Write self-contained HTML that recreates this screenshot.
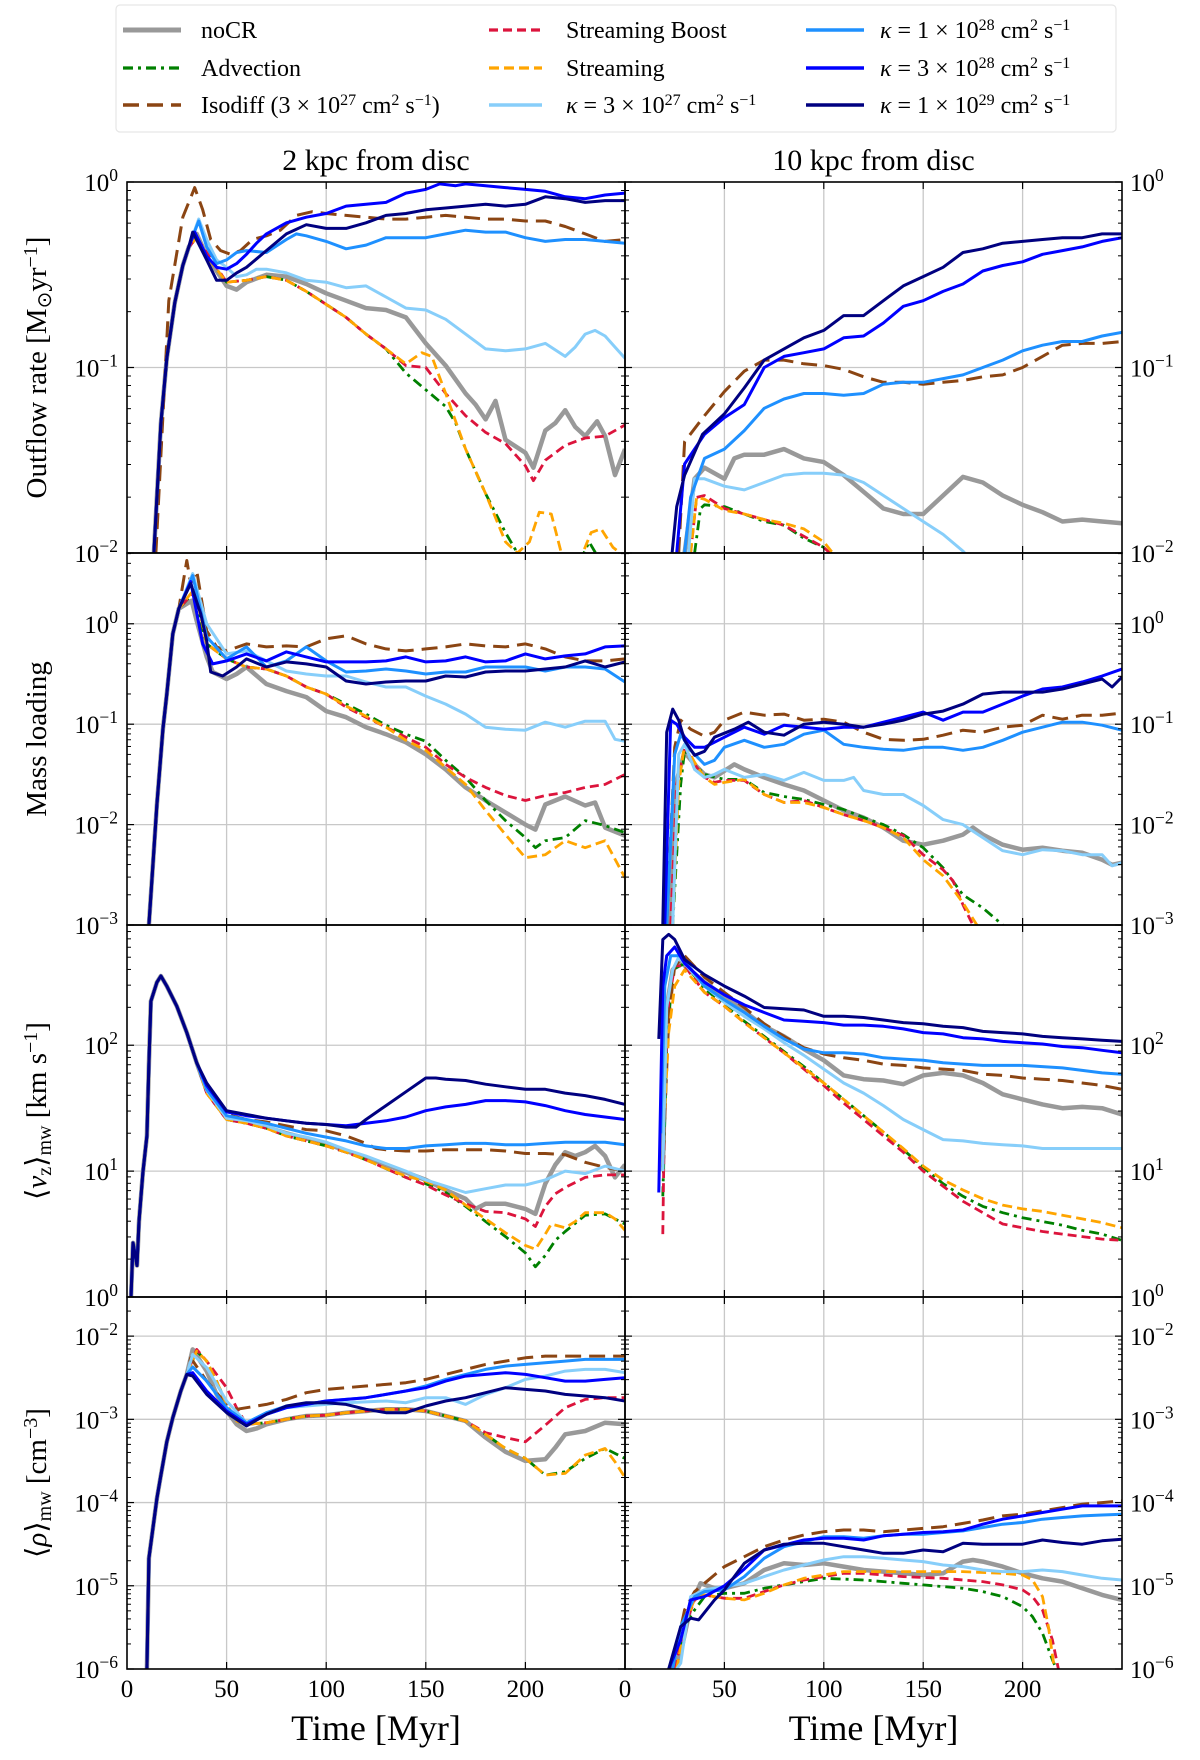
<!DOCTYPE html>
<html><head><meta charset="utf-8"><style>
html,body{margin:0;padding:0;background:#fff;}
svg{display:block;font-family:"Liberation Serif",serif;}
</style></head><body>
<svg id="fig" xmlns="http://www.w3.org/2000/svg" width="1200" height="1760" viewBox="0 0 1200 1760"></svg>
<script>
// ---- data (times in Myr, values are log10 of the quantity) ----
const seriesNames = ["noCR","Advection","Streaming Boost","Isodiff","Streaming","kappa 3e27","kappa 1e28","kappa 3e28","kappa 1e29"];
const xTicks = [0,50,100,150,200];

const early1 = [[13.5,-2],[17,-1.3],[20,-0.95],[24,-0.65],[28,-0.45],[31,-0.35]];
const outflow2 = [
 [[35,-0.28],[40,-0.4],[50,-0.56],[55,-0.58],[60,-0.54],[70,-0.5],[80,-0.51],[90,-0.55],[100,-0.6],[110,-0.64],[120,-0.68],[130,-0.69],[140,-0.73],[150,-0.87],[160,-0.99],[170,-1.14],[175,-1.2],[180,-1.28],[185,-1.18],[190,-1.39],[200,-1.46],[204,-1.54],[210,-1.34],[215,-1.3],[220,-1.23],[225,-1.32],[230,-1.37],[236,-1.29],[240,-1.37],[245,-1.58],[250,-1.44]],
 [[35,-0.3],[40,-0.4],[50,-0.54],[60,-0.53],[70,-0.51],[80,-0.53],[90,-0.59],[100,-0.66],[110,-0.73],[120,-0.82],[130,-0.9],[140,-1.03],[150,-1.12],[160,-1.21],[165,-1.3],[170,-1.44],[180,-1.68],[190,-1.89],[196,-2.0],[210,-2.2],[225,-2.1],[232,-1.94],[238,-2.05],[245,-2.2]],
 [[35,-0.3],[40,-0.38],[50,-0.54],[60,-0.53],[70,-0.51],[80,-0.53],[90,-0.59],[100,-0.66],[110,-0.73],[120,-0.82],[130,-0.9],[140,-0.99],[150,-1.0],[160,-1.14],[170,-1.26],[180,-1.35],[190,-1.41],[200,-1.53],[204,-1.61],[210,-1.5],[220,-1.42],[230,-1.38],[240,-1.37],[250,-1.31]],
 [[14.5,-2],[21,-0.64],[28,-0.19],[34,-0.03],[38,-0.15],[42,-0.31],[47,-0.37],[52,-0.39],[57,-0.37],[63,-0.31],[70,-0.29],[77,-0.26],[85,-0.18],[93,-0.16],[100,-0.17],[110,-0.18],[120,-0.19],[130,-0.2],[140,-0.2],[150,-0.19],[160,-0.18],[170,-0.19],[180,-0.2],[190,-0.2],[200,-0.21],[210,-0.21],[220,-0.24],[230,-0.28],[240,-0.32],[250,-0.31]],
 [[35,-0.3],[40,-0.4],[50,-0.54],[60,-0.53],[70,-0.51],[80,-0.53],[90,-0.59],[100,-0.66],[110,-0.73],[120,-0.82],[130,-0.9],[140,-0.98],[148,-0.92],[153,-0.94],[160,-1.14],[170,-1.44],[180,-1.68],[190,-1.94],[196,-2.0],[202,-1.94],[207,-1.78],[213,-1.79],[218,-2.0],[225,-2.1],[233,-1.89],[238,-1.87],[244,-1.97],[250,-2.02]],
 [[36,-0.2],[40,-0.31],[45,-0.42],[50,-0.46],[55,-0.51],[60,-0.5],[65,-0.47],[70,-0.47],[80,-0.49],[90,-0.53],[100,-0.54],[110,-0.57],[120,-0.56],[130,-0.62],[140,-0.68],[150,-0.69],[160,-0.74],[170,-0.82],[180,-0.9],[190,-0.91],[200,-0.9],[210,-0.87],[220,-0.94],[225,-0.89],[230,-0.82],[235,-0.8],[240,-0.83],[245,-0.89],[250,-0.95]],
 [[36,-0.21],[40,-0.35],[45,-0.44],[50,-0.42],[55,-0.38],[60,-0.37],[70,-0.38],[80,-0.31],[85,-0.28],[90,-0.29],[100,-0.32],[110,-0.36],[120,-0.34],[130,-0.3],[140,-0.3],[150,-0.3],[160,-0.28],[170,-0.26],[180,-0.27],[190,-0.27],[200,-0.3],[210,-0.32],[220,-0.31],[230,-0.31],[240,-0.32],[250,-0.33]],
 [[34,-0.27],[40,-0.4],[45,-0.46],[50,-0.47],[55,-0.44],[60,-0.39],[65,-0.33],[70,-0.28],[80,-0.22],[90,-0.19],[100,-0.17],[110,-0.13],[120,-0.12],[130,-0.11],[140,-0.06],[150,-0.04],[157,-0.01],[165,-0.02],[170,-0.01],[180,-0.02],[190,-0.03],[200,-0.04],[210,-0.05],[220,-0.08],[230,-0.09],[240,-0.07],[250,-0.06]],
 [[33,-0.27],[40,-0.42],[45,-0.53],[50,-0.53],[55,-0.49],[60,-0.46],[70,-0.37],[80,-0.28],[90,-0.23],[100,-0.25],[110,-0.25],[120,-0.22],[130,-0.18],[140,-0.17],[150,-0.15],[160,-0.14],[170,-0.13],[180,-0.12],[190,-0.13],[200,-0.12],[210,-0.08],[220,-0.09],[230,-0.11],[240,-0.1],[250,-0.1]]
];
const outflow10 = [
 [[30,-2],[35,-1.6],[40,-1.54],[50,-1.6],[55,-1.49],[60,-1.47],[70,-1.47],[80,-1.44],[90,-1.49],[100,-1.51],[110,-1.58],[120,-1.67],[130,-1.76],[140,-1.79],[150,-1.79],[160,-1.69],[170,-1.59],[180,-1.62],[190,-1.69],[200,-1.74],[210,-1.78],[220,-1.83],[230,-1.82],[240,-1.83],[250,-1.84]],
 [[35,-2],[38,-1.76],[40,-1.74],[50,-1.75],[60,-1.79],[70,-1.83],[80,-1.85],[90,-1.92],[100,-1.97],[106,-2.02]],
 [[33,-2],[36,-1.7],[40,-1.69],[50,-1.76],[60,-1.79],[70,-1.82],[80,-1.85],[90,-1.91],[100,-1.97],[105,-2.02]],
 [[27,-2],[30,-1.4],[40,-1.26],[50,-1.13],[60,-1.02],[70,-0.96],[80,-0.96],[90,-0.98],[100,-0.99],[110,-1.01],[120,-1.05],[130,-1.08],[140,-1.08],[150,-1.09],[160,-1.08],[170,-1.07],[180,-1.05],[190,-1.04],[200,-1.0],[210,-0.94],[220,-0.88],[230,-0.87],[240,-0.87],[250,-0.86]],
 [[33,-2],[36,-1.7],[40,-1.71],[50,-1.77],[60,-1.79],[70,-1.82],[80,-1.84],[90,-1.87],[100,-1.94],[106,-2.02]],
 [[32,-2],[35,-1.6],[40,-1.6],[50,-1.64],[60,-1.66],[70,-1.62],[80,-1.58],[90,-1.57],[100,-1.57],[110,-1.58],[120,-1.62],[130,-1.69],[140,-1.76],[150,-1.83],[160,-1.9],[170,-1.99],[175,-2.05]],
 [[30,-2],[33,-1.7],[40,-1.49],[50,-1.44],[60,-1.34],[70,-1.22],[80,-1.17],[90,-1.14],[100,-1.14],[110,-1.15],[120,-1.14],[130,-1.09],[140,-1.08],[150,-1.08],[160,-1.06],[170,-1.04],[180,-1.0],[190,-0.96],[200,-0.91],[210,-0.88],[220,-0.86],[230,-0.86],[240,-0.83],[250,-0.81]],
 [[26,-2],[30,-1.52],[40,-1.36],[50,-1.27],[60,-1.2],[70,-1.0],[80,-0.94],[90,-0.92],[100,-0.9],[110,-0.84],[120,-0.83],[130,-0.76],[140,-0.67],[150,-0.64],[160,-0.59],[170,-0.55],[180,-0.48],[190,-0.45],[200,-0.43],[210,-0.39],[220,-0.37],[230,-0.35],[240,-0.32],[250,-0.3]],
 [[23.7,-2],[26,-1.75],[30,-1.58],[39,-1.36],[50,-1.25],[60,-1.11],[70,-0.96],[80,-0.9],[90,-0.84],[100,-0.8],[110,-0.72],[120,-0.72],[130,-0.64],[140,-0.56],[150,-0.51],[160,-0.46],[170,-0.38],[180,-0.36],[190,-0.33],[200,-0.32],[210,-0.31],[220,-0.3],[230,-0.3],[240,-0.28],[250,-0.28]]
];
const early2 = [[11,-3],[13,-2.4],[15,-1.8],[18,-1.05],[20,-0.7],[23,-0.1],[26,0.15]];
const loading2 = [
 [[32.5,0.23],[35,0.03],[40,-0.33],[43,-0.48],[50,-0.55],[55,-0.5],[60,-0.43],[70,-0.6],[80,-0.67],[90,-0.73],[100,-0.87],[110,-0.93],[120,-1.03],[130,-1.1],[140,-1.18],[150,-1.3],[160,-1.45],[170,-1.63],[180,-1.76],[190,-1.88],[200,-2.0],[205,-2.05],[210,-1.8],[220,-1.72],[230,-1.81],[235,-1.78],[240,-2.03],[250,-2.11]],
 [[33,0.3],[40,-0.2],[50,-0.35],[60,-0.43],[70,-0.45],[80,-0.52],[90,-0.63],[100,-0.7],[110,-0.8],[120,-0.9],[130,-1.01],[140,-1.1],[150,-1.17],[160,-1.36],[170,-1.53],[180,-1.76],[190,-1.96],[200,-2.13],[205,-2.23],[210,-2.16],[220,-2.13],[230,-1.96],[240,-2.01],[250,-2.08]],
 [[35,0.35],[40,-0.2],[50,-0.35],[60,-0.43],[70,-0.45],[80,-0.52],[90,-0.63],[100,-0.7],[110,-0.83],[120,-0.93],[130,-1.03],[140,-1.13],[150,-1.23],[160,-1.4],[170,-1.53],[180,-1.63],[190,-1.71],[200,-1.76],[210,-1.71],[220,-1.68],[230,-1.63],[240,-1.6],[250,-1.5]],
 [[30,0.63],[32,0.4],[35,0.53],[40,-0.07],[45,-0.23],[50,-0.27],[60,-0.2],[70,-0.23],[80,-0.22],[90,-0.23],[100,-0.15],[110,-0.12],[120,-0.2],[130,-0.25],[140,-0.27],[150,-0.25],[160,-0.23],[170,-0.2],[180,-0.22],[190,-0.23],[200,-0.2],[210,-0.25],[220,-0.33],[230,-0.37],[240,-0.37],[250,-0.35]],
 [[34,0.35],[40,-0.2],[50,-0.35],[60,-0.43],[70,-0.45],[80,-0.52],[90,-0.63],[100,-0.7],[110,-0.82],[120,-0.92],[130,-1.03],[140,-1.16],[150,-1.26],[160,-1.43],[170,-1.6],[180,-1.86],[190,-2.1],[200,-2.33],[210,-2.3],[220,-2.16],[230,-2.23],[240,-2.16],[250,-2.53]],
 [[33,0.5],[40,0.0],[50,-0.3],[60,-0.27],[70,-0.37],[80,-0.47],[90,-0.5],[100,-0.52],[110,-0.52],[120,-0.58],[130,-0.63],[140,-0.63],[150,-0.72],[160,-0.8],[170,-0.9],[180,-1.03],[190,-1.05],[200,-1.06],[210,-0.98],[220,-1.03],[230,-0.97],[240,-0.97],[245,-1.15],[250,-1.17]],
 [[33,0.48],[40,-0.13],[50,-0.35],[60,-0.23],[70,-0.43],[80,-0.37],[90,-0.23],[100,-0.37],[110,-0.48],[120,-0.47],[130,-0.45],[140,-0.47],[150,-0.5],[160,-0.48],[170,-0.48],[180,-0.43],[190,-0.43],[200,-0.43],[210,-0.47],[220,-0.43],[230,-0.43],[240,-0.45],[250,-0.58]],
 [[32,0.42],[38,-0.2],[43,-0.4],[50,-0.37],[60,-0.3],[70,-0.37],[80,-0.28],[90,-0.33],[100,-0.38],[110,-0.38],[120,-0.38],[130,-0.37],[140,-0.33],[150,-0.38],[160,-0.37],[170,-0.33],[180,-0.38],[190,-0.37],[200,-0.3],[210,-0.35],[220,-0.32],[230,-0.3],[240,-0.23],[250,-0.22]],
 [[32,0.4],[37,0.1],[40,-0.17],[42,-0.48],[48,-0.52],[55,-0.43],[60,-0.35],[70,-0.43],[80,-0.38],[90,-0.4],[100,-0.43],[110,-0.57],[120,-0.6],[130,-0.58],[140,-0.57],[150,-0.57],[160,-0.52],[170,-0.53],[180,-0.48],[190,-0.47],[200,-0.47],[210,-0.45],[220,-0.43],[230,-0.37],[240,-0.43],[250,-0.38]]
];
const loading10 = [
 [[22,-3],[26,-1.56],[30,-1.28],[35,-1.4],[40,-1.5],[45,-1.53],[55,-1.4],[60,-1.45],[70,-1.53],[80,-1.6],[90,-1.66],[100,-1.76],[110,-1.86],[120,-1.93],[130,-2.03],[140,-2.16],[150,-2.2],[160,-2.16],[170,-2.1],[175,-2.03],[180,-2.1],[190,-2.2],[200,-2.25],[210,-2.23],[220,-2.26],[230,-2.28],[240,-2.35],[245,-2.4],[250,-2.38]],
 [[24,-3],[28,-1.6],[30,-1.26],[35,-1.4],[40,-1.5],[50,-1.55],[60,-1.55],[70,-1.68],[80,-1.72],[90,-1.75],[100,-1.8],[110,-1.85],[120,-1.93],[130,-2.0],[140,-2.1],[150,-2.23],[160,-2.43],[170,-2.7],[180,-2.83],[190,-3.0]],
 [[23,-3],[26,-1.6],[30,-1.23],[35,-1.4],[40,-1.53],[45,-1.58],[50,-1.56],[60,-1.56],[70,-1.7],[80,-1.78],[90,-1.76],[100,-1.83],[110,-1.9],[120,-1.96],[130,-2.03],[140,-2.11],[150,-2.3],[160,-2.45],[165,-2.56],[170,-2.8],[175,-3.0]],
 [[21,-3],[25,-1.23],[28,-0.96],[33,-1.05],[40,-1.12],[45,-1.08],[50,-0.96],[60,-0.88],[70,-0.91],[80,-0.9],[90,-0.96],[100,-0.95],[110,-0.98],[120,-1.08],[130,-1.15],[140,-1.16],[150,-1.15],[160,-1.11],[170,-1.06],[180,-1.08],[190,-1.03],[200,-1.01],[210,-0.91],[220,-0.95],[230,-0.91],[240,-0.91],[250,-0.89]],
 [[24,-3],[27,-1.6],[30,-1.2],[35,-1.38],[40,-1.53],[45,-1.6],[50,-1.58],[60,-1.55],[70,-1.7],[80,-1.78],[90,-1.78],[100,-1.83],[110,-1.9],[120,-1.96],[130,-2.03],[140,-2.13],[150,-2.35],[160,-2.51],[170,-2.78],[177,-3.0]],
 [[24,-3],[27,-1.3],[30,-1.2],[35,-1.45],[40,-1.53],[45,-1.5],[50,-1.45],[60,-1.53],[70,-1.5],[80,-1.56],[90,-1.48],[100,-1.56],[110,-1.56],[115,-1.53],[120,-1.66],[130,-1.7],[140,-1.7],[150,-1.81],[160,-1.95],[170,-2.0],[180,-2.13],[190,-2.26],[200,-2.3],[210,-2.25],[220,-2.26],[230,-2.3],[240,-2.3],[245,-2.41],[250,-2.38]],
 [[21,-3],[25,-1.3],[28,-1.1],[33,-1.26],[40,-1.4],[45,-1.36],[50,-1.23],[60,-1.16],[70,-1.23],[80,-1.2],[90,-1.1],[100,-1.06],[110,-1.2],[120,-1.23],[130,-1.25],[140,-1.26],[150,-1.23],[160,-1.23],[170,-1.26],[180,-1.23],[190,-1.16],[200,-1.08],[210,-1.03],[220,-0.98],[230,-0.98],[240,-1.01],[250,-1.06]],
 [[20,-3],[23,-0.96],[26,-1.0],[30,-1.13],[35,-1.23],[40,-1.23],[50,-1.13],[60,-1.03],[70,-1.1],[80,-1.01],[90,-1.03],[100,-1.05],[110,-1.03],[120,-1.03],[130,-0.98],[140,-0.93],[150,-0.88],[160,-0.96],[170,-0.88],[180,-0.88],[190,-0.8],[200,-0.72],[210,-0.65],[220,-0.63],[230,-0.58],[240,-0.52],[250,-0.45]],
 [[19,-3],[21,-1.08],[24,-0.85],[27,-0.96],[30,-1.16],[35,-1.31],[40,-1.27],[45,-1.13],[55,-1.05],[62,-0.98],[70,-1.08],[80,-1.11],[90,-1.0],[100,-0.98],[110,-1.0],[120,-1.03],[130,-1.0],[140,-0.96],[150,-0.9],[160,-0.87],[170,-0.8],[180,-0.7],[190,-0.68],[200,-0.68],[210,-0.68],[220,-0.65],[230,-0.6],[240,-0.55],[245,-0.63],[250,-0.53]]
];
const early3 = [[2,0],[3,0.43],[5,0.25],[6,0.6],[8,0.99],[10,1.28],[11,1.85],[12,2.35],[15,2.5],[17,2.55],[20,2.47],[25,2.31],[30,2.1],[35,1.86]];
const velocity2 = [
 [[40,1.64],[50,1.42],[60,1.39],[70,1.35],[80,1.3],[90,1.26],[100,1.22],[110,1.16],[120,1.11],[130,1.05],[140,0.99],[150,0.93],[160,0.85],[170,0.78],[175,0.7],[180,0.74],[190,0.74],[200,0.7],[205,0.66],[210,0.9],[215,1.05],[220,1.15],[225,1.12],[230,1.15],[235,1.2],[240,1.12],[245,0.95],[250,1.05]],
 [[40,1.62],[50,1.41],[60,1.38],[70,1.34],[80,1.28],[90,1.24],[100,1.2],[110,1.15],[120,1.09],[130,1.02],[140,0.95],[150,0.9],[160,0.83],[170,0.72],[180,0.6],[190,0.48],[200,0.35],[205,0.24],[210,0.33],[215,0.45],[220,0.52],[230,0.65],[240,0.66],[250,0.58]],
 [[40,1.62],[50,1.41],[60,1.38],[70,1.34],[80,1.28],[90,1.24],[100,1.2],[110,1.15],[120,1.09],[130,1.02],[140,0.95],[150,0.89],[160,0.81],[170,0.74],[180,0.68],[190,0.67],[200,0.62],[205,0.56],[210,0.72],[215,0.82],[220,0.87],[230,0.95],[240,0.97],[250,0.97]],
 [[40,1.66],[50,1.45],[60,1.41],[70,1.39],[80,1.36],[90,1.33],[100,1.32],[110,1.28],[120,1.22],[125,1.18],[130,1.17],[140,1.16],[150,1.16],[160,1.17],[170,1.17],[180,1.17],[190,1.16],[200,1.14],[210,1.14],[220,1.13],[230,1.07],[240,1.03],[250,1.0]],
 [[40,1.62],[50,1.41],[60,1.38],[70,1.34],[80,1.28],[90,1.24],[100,1.2],[110,1.15],[120,1.09],[130,1.02],[140,0.96],[150,0.92],[160,0.85],[170,0.73],[180,0.62],[190,0.51],[200,0.41],[205,0.38],[210,0.5],[213,0.58],[220,0.55],[225,0.6],[230,0.67],[235,0.67],[240,0.67],[245,0.62],[250,0.53]],
 [[40,1.64],[50,1.42],[60,1.4],[70,1.36],[80,1.3],[90,1.27],[100,1.23],[110,1.17],[120,1.12],[130,1.06],[140,1.0],[150,0.93],[160,0.88],[170,0.83],[180,0.86],[190,0.89],[200,0.89],[210,0.93],[220,1.0],[230,0.98],[240,1.04],[250,1.0]],
 [[40,1.65],[50,1.44],[60,1.41],[70,1.38],[80,1.34],[90,1.3],[100,1.27],[110,1.24],[120,1.2],[130,1.18],[140,1.18],[150,1.2],[160,1.21],[170,1.22],[180,1.22],[190,1.21],[200,1.21],[210,1.22],[220,1.23],[230,1.23],[240,1.23],[250,1.21]],
 [[40,1.68],[50,1.47],[60,1.44],[70,1.42],[80,1.4],[90,1.38],[100,1.37],[110,1.36],[120,1.38],[130,1.4],[140,1.43],[150,1.48],[160,1.51],[170,1.53],[180,1.56],[190,1.56],[200,1.55],[210,1.52],[220,1.48],[230,1.45],[240,1.43],[250,1.41]],
 [[40,1.7],[50,1.48],[60,1.45],[70,1.42],[80,1.4],[90,1.38],[100,1.37],[110,1.35],[115,1.35],[120,1.41],[130,1.52],[140,1.63],[150,1.74],[155,1.74],[160,1.73],[170,1.72],[180,1.69],[190,1.67],[200,1.65],[210,1.65],[220,1.62],[230,1.6],[240,1.57],[250,1.53]]
];
const velocity10 = [
 [[19,1.0],[21,2.3],[24,2.6],[28,2.66],[40,2.5],[50,2.39],[60,2.27],[70,2.15],[80,2.07],[90,1.97],[100,1.88],[110,1.76],[120,1.73],[130,1.72],[140,1.69],[150,1.76],[160,1.78],[170,1.76],[180,1.7],[190,1.61],[200,1.57],[210,1.53],[220,1.5],[230,1.51],[240,1.5],[250,1.45]],
 [[19,0.8],[21,2.0],[24,2.6],[30,2.65],[40,2.45],[50,2.32],[60,2.19],[70,2.07],[80,1.95],[90,1.83],[100,1.7],[110,1.57],[120,1.44],[130,1.31],[140,1.17],[150,1.03],[160,0.9],[170,0.8],[180,0.72],[190,0.67],[200,0.63],[210,0.6],[220,0.57],[230,0.53],[240,0.5],[250,0.45]],
 [[19,0.5],[20,1.68],[22,2.34],[25,2.63],[30,2.63],[40,2.42],[50,2.31],[60,2.18],[70,2.06],[80,1.94],[90,1.81],[100,1.68],[110,1.54],[120,1.41],[130,1.28],[140,1.15],[150,1.0],[160,0.88],[170,0.76],[180,0.67],[190,0.58],[200,0.55],[210,0.52],[220,0.5],[230,0.48],[240,0.46],[250,0.45]],
 [[19,1.03],[22,2.21],[25,2.63],[30,2.71],[40,2.54],[50,2.42],[60,2.3],[70,2.17],[80,2.07],[90,1.98],[100,1.93],[110,1.9],[120,1.88],[130,1.85],[140,1.84],[150,1.82],[160,1.81],[170,1.8],[180,1.77],[190,1.76],[200,1.74],[210,1.73],[220,1.72],[230,1.7],[240,1.68],[250,1.65]],
 [[20,1.5],[22,2.1],[25,2.47],[30,2.6],[40,2.42],[50,2.31],[60,2.18],[70,2.06],[80,1.94],[90,1.82],[100,1.7],[110,1.57],[120,1.44],[130,1.31],[140,1.18],[150,1.04],[160,0.93],[170,0.85],[180,0.78],[190,0.73],[200,0.7],[210,0.68],[220,0.65],[230,0.62],[240,0.59],[250,0.55]],
 [[19,1.0],[21,2.3],[24,2.6],[27,2.7],[40,2.47],[50,2.34],[60,2.23],[70,2.13],[80,2.02],[90,1.92],[100,1.81],[110,1.7],[120,1.62],[130,1.52],[140,1.41],[150,1.33],[160,1.25],[170,1.24],[180,1.22],[190,1.21],[200,1.2],[210,1.18],[220,1.18],[230,1.18],[240,1.18],[250,1.18]],
 [[18,1.3],[20,2.47],[23,2.71],[28,2.71],[40,2.47],[50,2.36],[60,2.26],[70,2.15],[80,2.05],[90,1.97],[100,1.94],[110,1.94],[120,1.93],[130,1.9],[140,1.89],[150,1.88],[160,1.86],[170,1.85],[180,1.84],[190,1.84],[200,1.84],[210,1.83],[220,1.82],[230,1.8],[240,1.78],[250,1.77]],
 [[17,0.83],[19,2.47],[21,2.71],[25,2.78],[30,2.65],[40,2.5],[50,2.4],[60,2.32],[70,2.26],[80,2.2],[90,2.19],[100,2.18],[110,2.16],[120,2.16],[130,2.15],[140,2.13],[150,2.1],[160,2.09],[170,2.06],[180,2.05],[190,2.03],[200,2.02],[210,2.01],[220,1.99],[230,1.98],[240,1.96],[250,1.94]],
 [[17,2.05],[19,2.84],[22,2.88],[25,2.84],[30,2.68],[40,2.56],[50,2.47],[60,2.39],[70,2.3],[80,2.29],[90,2.28],[100,2.23],[110,2.23],[120,2.22],[130,2.2],[140,2.18],[150,2.17],[160,2.15],[170,2.14],[180,2.11],[190,2.1],[200,2.09],[210,2.07],[220,2.06],[230,2.05],[240,2.04],[250,2.03]]
];
const early4 = [[10,-6],[11,-4.67],[15,-3.95],[17,-3.67],[20,-3.27],[23,-2.98],[27,-2.66],[30,-2.46]];
const density2 = [
 [[33,-2.16],[40,-2.42],[45,-2.7],[50,-2.9],[55,-3.06],[60,-3.14],[65,-3.11],[70,-3.06],[80,-3.0],[90,-2.96],[100,-2.95],[110,-2.92],[120,-2.9],[130,-2.88],[140,-2.88],[150,-2.9],[160,-2.96],[170,-3.02],[180,-3.22],[190,-3.39],[200,-3.5],[210,-3.48],[215,-3.34],[220,-3.18],[230,-3.14],[240,-3.04],[250,-3.06]],
 [[35,-2.18],[40,-2.3],[45,-2.54],[50,-2.82],[55,-3.02],[60,-3.06],[70,-3.04],[80,-3.0],[90,-2.96],[100,-2.95],[110,-2.92],[120,-2.9],[130,-2.88],[140,-2.88],[150,-2.9],[160,-2.96],[170,-3.02],[180,-3.18],[190,-3.35],[200,-3.47],[210,-3.67],[220,-3.63],[230,-3.47],[240,-3.35],[250,-3.47]],
 [[35,-2.16],[40,-2.3],[50,-2.62],[55,-2.86],[60,-3.06],[70,-3.04],[80,-3.0],[90,-2.96],[100,-2.95],[110,-2.92],[120,-2.9],[130,-2.88],[140,-2.88],[150,-2.9],[160,-2.96],[170,-3.02],[180,-3.16],[190,-3.22],[200,-3.27],[210,-3.07],[220,-2.86],[230,-2.76],[240,-2.74],[250,-2.74]],
 [[32,-2.26],[40,-2.54],[50,-2.82],[55,-2.88],[60,-2.86],[70,-2.82],[80,-2.76],[90,-2.68],[100,-2.64],[110,-2.62],[120,-2.6],[130,-2.58],[140,-2.56],[150,-2.52],[160,-2.46],[170,-2.4],[180,-2.34],[190,-2.3],[200,-2.26],[210,-2.24],[220,-2.24],[230,-2.24],[240,-2.24],[250,-2.24]],
 [[35,-2.18],[40,-2.3],[45,-2.54],[50,-2.82],[55,-3.02],[60,-3.06],[70,-3.04],[80,-3.0],[90,-2.96],[100,-2.95],[110,-2.92],[120,-2.9],[130,-2.88],[140,-2.88],[150,-2.9],[160,-2.96],[170,-3.02],[180,-3.18],[190,-3.35],[200,-3.47],[210,-3.67],[220,-3.65],[230,-3.43],[240,-3.35],[245,-3.51],[250,-3.7]],
 [[33,-2.22],[40,-2.38],[50,-2.78],[60,-3.04],[70,-2.94],[80,-2.86],[90,-2.84],[100,-2.82],[110,-2.8],[120,-2.79],[130,-2.78],[140,-2.8],[150,-2.74],[160,-2.74],[170,-2.82],[180,-2.7],[190,-2.62],[200,-2.52],[210,-2.48],[220,-2.42],[230,-2.4],[240,-2.4],[250,-2.44]],
 [[33,-2.37],[40,-2.54],[50,-2.86],[60,-3.04],[70,-2.92],[80,-2.84],[90,-2.82],[100,-2.78],[110,-2.76],[120,-2.74],[130,-2.7],[140,-2.66],[150,-2.6],[160,-2.52],[170,-2.46],[180,-2.4],[190,-2.36],[200,-2.34],[210,-2.32],[220,-2.3],[230,-2.28],[240,-2.28],[250,-2.28]],
 [[33,-2.44],[40,-2.66],[50,-2.9],[60,-3.06],[70,-2.94],[80,-2.86],[90,-2.82],[100,-2.78],[110,-2.76],[120,-2.74],[130,-2.7],[140,-2.66],[150,-2.62],[160,-2.54],[170,-2.48],[180,-2.46],[190,-2.44],[200,-2.46],[210,-2.5],[220,-2.54],[230,-2.54],[240,-2.52],[250,-2.5]],
 [[33,-2.48],[40,-2.7],[50,-2.92],[60,-3.08],[70,-2.94],[80,-2.84],[90,-2.8],[100,-2.8],[110,-2.82],[120,-2.88],[130,-2.92],[140,-2.92],[150,-2.84],[160,-2.78],[170,-2.74],[180,-2.68],[190,-2.62],[200,-2.64],[210,-2.66],[220,-2.7],[230,-2.72],[240,-2.74],[250,-2.78]]
];
const density10 = [
 [[24,-6],[28,-5.81],[33,-5.25],[38,-4.97],[45,-5.03],[50,-5.03],[60,-4.97],[70,-4.81],[80,-4.73],[90,-4.75],[100,-4.73],[110,-4.77],[120,-4.81],[130,-4.83],[140,-4.85],[150,-4.87],[160,-4.85],[170,-4.71],[175,-4.69],[180,-4.71],[190,-4.77],[200,-4.85],[210,-4.91],[220,-4.95],[230,-5.03],[240,-5.11],[250,-5.17]],
 [[26,-6],[30,-5.49],[35,-5.29],[40,-5.13],[50,-5.09],[60,-5.09],[70,-5.03],[80,-4.99],[90,-4.95],[100,-4.91],[110,-4.92],[120,-4.93],[130,-4.95],[140,-4.97],[150,-4.99],[160,-5.01],[170,-5.03],[180,-5.07],[190,-5.13],[200,-5.25],[205,-5.37],[210,-5.57],[215,-5.89],[217,-6]],
 [[25,-6],[30,-5.49],[35,-5.17],[40,-5.11],[50,-5.15],[60,-5.15],[70,-5.07],[80,-4.99],[90,-4.93],[100,-4.89],[110,-4.85],[120,-4.85],[130,-4.87],[140,-4.89],[150,-4.9],[160,-4.91],[170,-4.93],[180,-4.95],[190,-4.99],[200,-5.05],[205,-5.13],[210,-5.29],[215,-5.65],[218,-6]],
 [[22,-6],[24,-5.97],[30,-5.29],[35,-5.07],[40,-4.97],[50,-4.77],[60,-4.65],[70,-4.53],[80,-4.45],[90,-4.39],[100,-4.35],[110,-4.33],[120,-4.33],[130,-4.35],[140,-4.33],[150,-4.31],[160,-4.29],[170,-4.25],[180,-4.21],[190,-4.16],[200,-4.14],[210,-4.1],[220,-4.06],[230,-4.02],[240,-4.0],[250,-3.98]],
 [[26,-6],[30,-5.49],[35,-5.15],[40,-5.11],[50,-5.15],[60,-5.17],[70,-5.09],[80,-4.99],[90,-4.91],[100,-4.87],[110,-4.83],[120,-4.83],[130,-4.83],[140,-4.83],[150,-4.83],[160,-4.83],[170,-4.83],[180,-4.84],[190,-4.85],[200,-4.87],[205,-4.93],[210,-5.13],[213,-5.49],[216,-6]],
 [[26,-6],[28,-5.93],[33,-5.13],[40,-5.05],[50,-5.01],[60,-4.97],[70,-4.89],[80,-4.81],[90,-4.75],[100,-4.69],[110,-4.65],[120,-4.65],[130,-4.67],[140,-4.69],[150,-4.71],[160,-4.75],[170,-4.77],[180,-4.81],[190,-4.83],[200,-4.83],[210,-4.81],[220,-4.83],[230,-4.87],[240,-4.91],[250,-4.93]],
 [[24,-6],[28,-5.49],[35,-5.13],[40,-5.07],[50,-5.05],[60,-4.89],[70,-4.67],[80,-4.53],[90,-4.47],[100,-4.41],[110,-4.41],[120,-4.43],[130,-4.4],[140,-4.38],[150,-4.38],[160,-4.36],[170,-4.34],[180,-4.3],[190,-4.26],[200,-4.24],[210,-4.2],[220,-4.18],[230,-4.16],[240,-4.15],[250,-4.14]],
 [[22,-6],[28,-5.65],[33,-5.17],[40,-5.13],[50,-5.0],[60,-4.8],[70,-4.57],[80,-4.51],[90,-4.45],[100,-4.43],[110,-4.43],[120,-4.45],[130,-4.4],[140,-4.38],[150,-4.36],[160,-4.35],[170,-4.33],[180,-4.26],[190,-4.2],[200,-4.16],[210,-4.12],[220,-4.08],[230,-4.04],[240,-4.04],[250,-4.04]],
 [[22,-6],[28,-5.49],[33,-5.39],[37,-5.41],[45,-5.17],[50,-5.05],[55,-4.89],[60,-4.73],[70,-4.57],[80,-4.5],[90,-4.49],[100,-4.49],[110,-4.53],[120,-4.57],[130,-4.61],[140,-4.61],[150,-4.57],[160,-4.59],[170,-4.49],[180,-4.5],[190,-4.5],[200,-4.5],[210,-4.45],[220,-4.48],[230,-4.5],[240,-4.46],[250,-4.44]]
];

// ---- layout / style ----
const NS = "http://www.w3.org/2000/svg";
const svg = document.getElementById("fig");
const COLS = [{x0:127,x1:625},{x0:625,x1:1122}];
const ROWS = [
 {y0:182,y1:553,lo:-2,hi:0,ticks:[-2,-1,0]},
 {y0:553,y1:925,lo:-3,hi:0.705,ticks:[-3,-2,-1,0]},
 {y0:925,y1:1297,lo:0,hi:2.955,ticks:[0,1,2]},
 {y0:1297,y1:1669,lo:-6,hi:-1.53,ticks:[-6,-5,-4,-3,-2]}
];
const STY = [
 {c:"#999999",w:4.5,d:""},{c:"#008000",w:2.8,d:"10,5,3,5"},{c:"#dc143c",w:2.8,d:"9,5"},
 {c:"#8b4513",w:3,d:"16,8"},{c:"#ffa500",w:2.8,d:"10,5"},{c:"#87cefa",w:3,d:""},
 {c:"#1e90ff",w:3,d:""},{c:"#0000ff",w:3,d:""},{c:"#000080",w:3,d:""}
];
function el(tag, attrs, parent){const e=document.createElementNS(NS,tag);for(const k in attrs)e.setAttribute(k,attrs[k]);(parent||svg).appendChild(e);return e;}
function xs(col,t){const c=COLS[col];return c.x0+(t/250)*(c.x1-c.x0);}
function ys(row,v){const r=ROWS[row];return r.y1-(v-r.lo)/(r.hi-r.lo)*(r.y1-r.y0);}
function supText(parent,x,y,anchor,base,sup,size,name){
 const t=el("text",{x:x,y:y,"text-anchor":anchor,"font-size":size,fill:"#000"},parent);
 
 
 const a=document.createElementNS(NS,"tspan");a.textContent=base;t.appendChild(a);
 const b=document.createElementNS(NS,"tspan");b.setAttribute("dy",-10);b.setAttribute("font-size",size*0.7);b.textContent=sup;t.appendChild(b);
 return t;
}
const defs = el("defs",{});

const panels = [
 {row:0,col:0,data:outflow2,early:early1,name:"outflow-2kpc"},
 {row:0,col:1,data:outflow10,early:null,name:"outflow-10kpc"},
 {row:1,col:0,data:loading2,early:early2,name:"massloading-2kpc"},
 {row:1,col:1,data:loading10,early:null,name:"massloading-10kpc"},
 {row:2,col:0,data:velocity2,early:early3,name:"velocity-2kpc"},
 {row:2,col:1,data:velocity10,early:null,name:"velocity-10kpc"},
 {row:3,col:0,data:density2,early:early4,name:"density-2kpc"},
 {row:3,col:1,data:density10,early:null,name:"density-10kpc"}
];
const slug = ["nocr","advection","streaming-boost","isodiff","streaming","kappa-3e27","kappa-1e28","kappa-3e28","kappa-1e29"];

panels.forEach((p,pi)=>{
 const r=ROWS[p.row], c=COLS[p.col];
 const g=el("g",{});
 
 
 const cp=el("clipPath",{id:"cp"+pi},defs);
 el("rect",{x:c.x0,y:r.y0,width:c.x1-c.x0,height:r.y1-r.y0},cp);
 xTicks.slice(1).forEach(t=>{const l=el("line",{x1:xs(p.col,t),x2:xs(p.col,t),y1:r.y0,y2:r.y1,stroke:"#c8c8c8","stroke-width":1.3},g);
  });
 r.ticks.forEach(v=>{if(v>r.lo&&v<r.hi){const l=el("line",{x1:c.x0,x2:c.x1,y1:ys(p.row,v),y2:ys(p.row,v),stroke:"#c8c8c8","stroke-width":1.3},g);
  }});
 const sg=el("g",{"clip-path":"url(#cp"+pi+")"},g);
 p.data.forEach((ser,si)=>{
  let pts=(p.early && !(si===3 && p.row===0)) ? p.early.concat(ser) : ser;
  const d=pts.map((q,i)=>(i?"L":"M")+xs(p.col,q[0]).toFixed(1)+","+ys(p.row,q[1]).toFixed(1)).join("");
  const s=STY[si];
  const path=el("path",{d:d,fill:"none",stroke:s.c,"stroke-width":s.w,"stroke-linejoin":"round"},sg);
  if(s.d)path.setAttribute("stroke-dasharray",s.d);
  
  
 });
 for(let v=Math.ceil(r.lo);v<=r.hi;v++){
  [c.x0,c.x1].forEach((x,side)=>{const dir=side?-1:1;
   el("line",{x1:x,x2:x+dir*7,y1:ys(p.row,v),y2:ys(p.row,v),stroke:"#000","stroke-width":1.2},g);
   for(let m=2;m<10;m++){const vv=v+Math.log10(m);if(vv<r.hi)el("line",{x1:x,x2:x+dir*4,y1:ys(p.row,vv),y2:ys(p.row,vv),stroke:"#000","stroke-width":1},g);}
  });
 }
 xTicks.slice(1).forEach(t=>{[r.y0,r.y1].forEach((y,side)=>{const dir=side?-1:1;el("line",{x1:xs(p.col,t),x2:xs(p.col,t),y1:y,y2:y+dir*7,stroke:"#000","stroke-width":1.2},g);});});
 const fr=el("rect",{x:c.x0,y:r.y0,width:c.x1-c.x0,height:r.y1-r.y0,fill:"none",stroke:"#000","stroke-width":1.6},g);
 
 r.ticks.forEach(v=>{
  if(v<r.lo||v>r.hi+0.01)return;
  const y=ys(p.row,v)+9;
  const sup = v<0 ? "\u2212"+Math.abs(v) : String(v);
  if(p.col===0) supText(g,118,y,"end","10",sup,25,"y-tick-label");
  else supText(g,1130,y,"start","10",sup,25,"y-tick-label");
 });
});

[0,1].forEach(col=>{
 xTicks.forEach(t=>{
  const tx=el("text",{x:xs(col,t),y:1697,"text-anchor":"middle","font-size":25});
  tx.textContent=String(t);
  
 });
 const xl=el("text",{x:(COLS[col].x0+COLS[col].x1)/2,y:1740,"text-anchor":"middle","font-size":36});
 xl.textContent="Time [Myr]";
 
});
[["2 kpc from disc",0],["10 kpc from disc",1]].forEach(([s,col])=>{
 const tt=el("text",{x:(COLS[col].x0+COLS[col].x1)/2,y:170,"text-anchor":"middle","font-size":30});
 tt.textContent=s;
 
});
const yTitles=[
 [["Outflow rate [M",""],["\u2299","sub"],["yr",""],["\u22121","sup"],["]",""]],
 [["Mass loading",""]],
 [["\u27E8",""],["v","it"],["z","sub"],["\u27E9",""],["mw","sub"],[" [km s",""],["\u22121","sup"],["]",""]],
 [["\u27E8",""],["\u03C1","it"],["\u27E9",""],["mw","sub"],[" [cm",""],["\u22123","sup"],["]",""]]
];
yTitles.forEach((parts,ri)=>{
 const cy=(ROWS[ri].y0+ROWS[ri].y1)/2;
 const t=el("text",{x:0,y:0,"text-anchor":"middle","font-size":29,transform:"translate(46,"+cy+") rotate(-90)"});
 
 parts.forEach(([s,k])=>{const sp=document.createElementNS(NS,"tspan");sp.textContent=s;
  if(k==="sub"){sp.setAttribute("font-size",20);sp.setAttribute("baseline-shift","-25%");}
  if(k==="sup"){sp.setAttribute("font-size",20);sp.setAttribute("baseline-shift","45%");}
  if(k==="it"){sp.setAttribute("font-style","italic");}
  t.appendChild(sp);});
});

const lg=el("g",{});

el("rect",{x:116,y:5,width:1000,height:127,rx:4,fill:"#fff",stroke:"#e6e6e6","stroke-width":1.2},lg);
const legendLabels=[
 [["noCR",""]],
 [["Advection",""]],
 [["Streaming Boost",""]],
 [["Isodiff (3 \u00D7 10",""],["27","sup"],[" cm",""],["2","sup"],[" s",""],["\u22121","sup"],[")",""]],
 [["Streaming",""]],
 [["\u03BA","it"],[" = 3 \u00D7 10",""],["27","sup"],[" cm",""],["2","sup"],[" s",""],["\u22121","sup"]],
 [["\u03BA","it"],[" = 1 \u00D7 10",""],["28","sup"],[" cm",""],["2","sup"],[" s",""],["\u22121","sup"]],
 [["\u03BA","it"],[" = 3 \u00D7 10",""],["28","sup"],[" cm",""],["2","sup"],[" s",""],["\u22121","sup"]],
 [["\u03BA","it"],[" = 1 \u00D7 10",""],["29","sup"],[" cm",""],["2","sup"],[" s",""],["\u22121","sup"]]
];
const legendPos=[[0,0],[0,1],[1,0],[0,2],[1,1],[1,2],[2,0],[2,1],[2,2]];
const colX=[[123,181,201],[489,542,566],[806,864,880]];
const rowY=[30,68,105];
legendLabels.forEach((parts,si)=>{
 const [ci,ri]=legendPos[si]; const cx=colX[ci], y=rowY[ri];
 const eg=el("g",{},lg);
 
 const s=STY[si];
 const ln=el("line",{x1:cx[0],x2:cx[1],y1:y,y2:y,stroke:s.c,"stroke-width":s.w+0.5},eg);
 if(s.d)ln.setAttribute("stroke-dasharray",s.d);
 const t=el("text",{x:cx[2],y:y+8,"font-size":24},eg);
 parts.forEach(([str,k])=>{const sp=document.createElementNS(NS,"tspan");sp.textContent=str;
  if(k==="sup"){sp.setAttribute("font-size",16);sp.setAttribute("baseline-shift","50%");}
  if(k==="it"){sp.setAttribute("font-style","italic");}
  t.appendChild(sp);});
});
</script>
</body></html>
